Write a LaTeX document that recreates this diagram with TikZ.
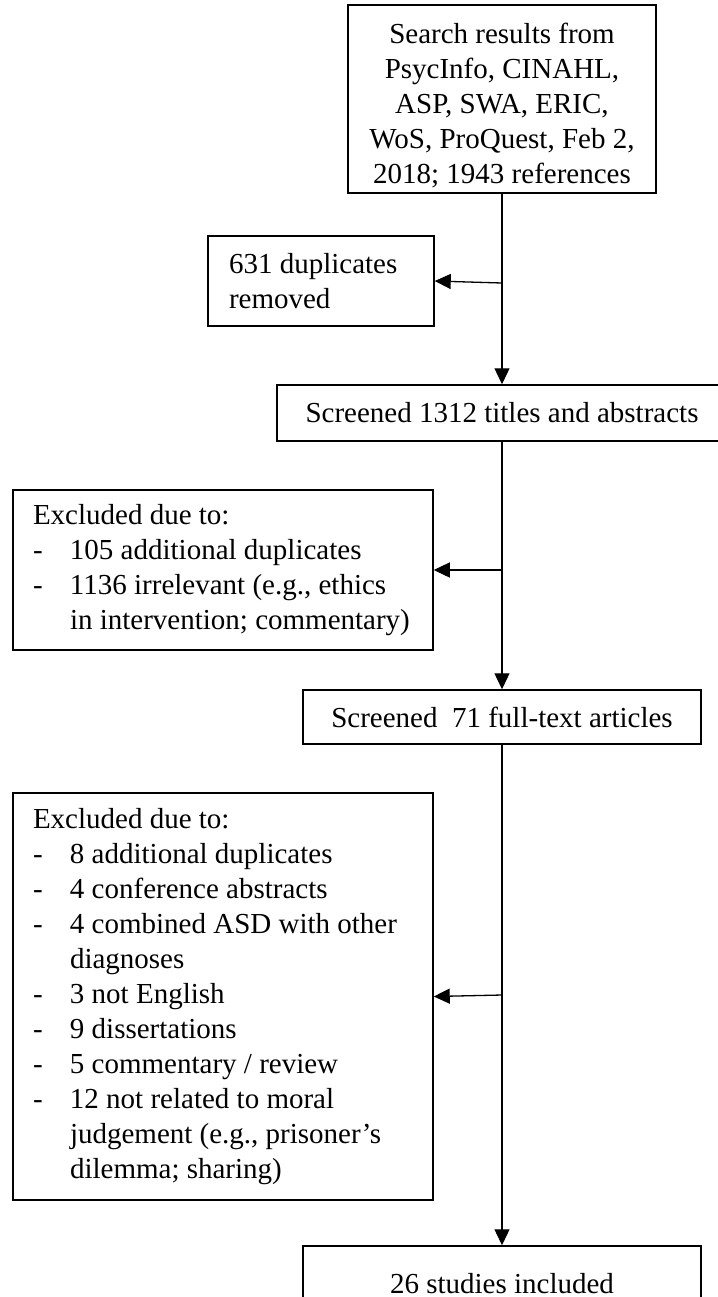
\documentclass[tikz,border=0pt]{standalone}
\usepackage{fontspec}
\setmainfont{Liberation Serif}
\usetikzlibrary{arrows.meta}
\newcommand{\Item}[1]{\mbox{\makebox[18.5pt][l]{-}#1}}
\newcommand{\Cont}[1]{\mbox{\hspace*{18.5pt}#1}}

\begin{document}
\begin{tikzpicture}[x=1pt,y=-1pt]
  \tikzset{BoxStyle/.style={draw, line width=0.75pt, inner xsep=10pt, inner ysep=0pt,
      font=\fontsize{14.5}{17.5}\selectfont}}
  \tikzset{ListStyle/.style={BoxStyle, align=flush left}}
  \useasboundingbox (0,0) rectangle (359,648.5);
  \clip (0,0) rectangle (359,648.5);
  %% main column, trunk at x = 251
  \node[BoxStyle, line width=1.4pt, minimum width=154pt, minimum height=94pt,
        align=center] (src) at (251,49.5)
       {\rule{0pt}{16.3pt}Search results from\\PsycInfo, CINAHL,\\ASP, SWA, ERIC,\\WoS, ProQuest, Feb 2,\\2018; 1943 references};
  \node[BoxStyle, minimum width=225pt, minimum height=28pt] (scr) at (251,206.5)
       {Screened 1312 titles and abstracts};
  \node[BoxStyle, minimum width=199pt, minimum height=27pt] (full) at (251,358.5)
       {Screened\ \ 71 full-text articles};
  \node[BoxStyle, minimum width=199pt, minimum height=37.2pt] (fin) at (251,641.6)
       {26 studies included};
  %% exclusions on the left
  \node[ListStyle, text width=92pt, inner xsep=10.5pt, minimum height=45pt] (dup) at (160.5,140.5)
       {631 duplicates\\removed};
  \node[ListStyle, text width=190pt, minimum height=80pt] (ex1) at (111.5,285)
       {Excluded due to:\\
        \Item{105 additional duplicates}\\
        \Item{1136 irrelevant (e.g., ethics}\\
        \Cont{in intervention; commentary)}};
  \node[ListStyle, text width=190pt, minimum height=203.5pt] (ex2) at (111.5,498.25)
       {Excluded due to:\\
        \Item{8 additional duplicates}\\
        \Item{4 conference abstracts}\\
        \Item{4 combined ASD with other}\\
        \Cont{diagnoses}\\
        \Item{3 not English}\\
        \Item{9 dissertations}\\
        \Item{5 commentary / review}\\
        \Item{12 not related to moral}\\
        \Cont{judgement (e.g., prisoner's}\\
        \Cont{dilemma; sharing)}};
  %% connectors
  \tikzset{EdgeStyle/.style={line width=0.65pt, -{Triangle[length=8pt,width=7.5pt]}}}
  \coordinate (j1) at (251,141.5);
  \coordinate (j2) at (251,285);
  \coordinate (j3) at (251,497.5);
  \draw[EdgeStyle] (src) -- (scr);
  \draw[EdgeStyle] (scr) -- (full);
  \draw[EdgeStyle] (full) -- (fin);
  \draw[EdgeStyle] (j1) -- (dup.east);
  \draw[EdgeStyle] (j2) -- (ex1.east);
  \draw[EdgeStyle] (j3) -- (ex2.east);
\end{tikzpicture}
\end{document}
